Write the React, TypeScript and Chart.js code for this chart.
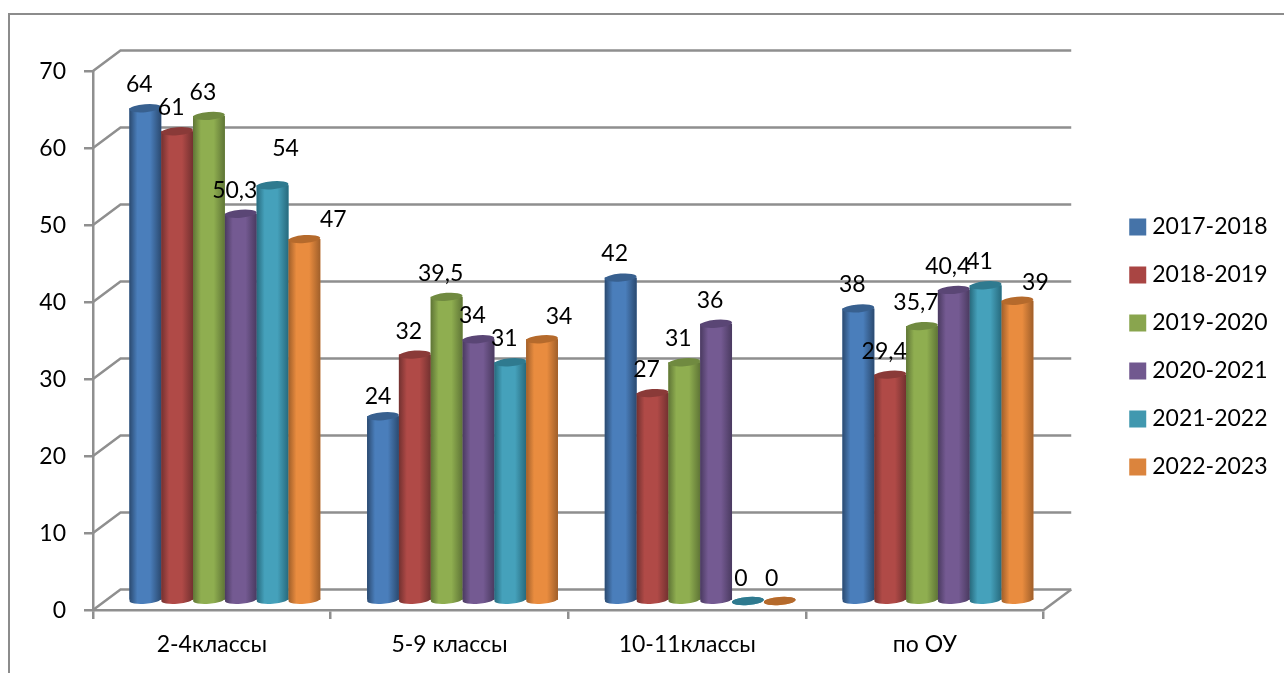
import React, { useEffect, useRef } from "react";
import { Chart, registerables } from "chart.js";

Chart.register(...registerables);

const categories = ["2-4классы", "5-9 классы", "10-11классы", "по ОУ"];
const seriesNames = ["2017-2018", "2018-2019", "2019-2020", "2020-2021", "2021-2022", "2022-2023"];
const y1718 = [64, 24, 42, 38];
const y1819 = [61, 32, 27, 29.4];
const y1920 = [63, 39.5, 31, 35.7];
const y2021 = [50.3, 34, 36, 40.4];
const y2122 = [54, 31, 0, 41];
const y2223 = [47, 34, 0, 39];
const seriesValues = [y1718, y1819, y1920, y2021, y2122, y2223];
const yTicks = [0, 10, 20, 30, 40, 50, 60, 70];

const baseColors = ["#4A7EBB", "#B04A47", "#8FAE50", "#745A92", "#45A1BB", "#E98C3F"];
const legendColors = ["#4573A8", "#A94543", "#89A54E", "#71588F", "#4198AF", "#DB843D"];
const edgeColors = ["#2B4A70", "#733130", "#5F7536", "#4A3A60", "#276A7D", "#A05F2A"];
const capColors = ["#38608F", "#8A3A38", "#708A40", "#5A4675", "#2F7A8F", "#B56A2C"];

const FONT = "Lato, Carlito, 'Open Sans', sans-serif";
const FONT_SIZE = 23;
const GRID = "#8F8F8F";
const DEPTH_X = 27.5;
const DEPTH_Y = -20.5;
const BAR_DX = 13;
const BAR_DY = -9;
const CAT_PCT = 0.803;
const CAP_RY = 4;
const TILT = -0.08;

// label nudges relative to the bar top, per series then per category
const d: [number, number] = [-6, -24];
const labelNudges: [number, number][][] = [
  [d, [-5, -20], [-6, -25], d],
  [d, d, d, d],
  [d, d, d, d],
  [d, d, d, d],
  [[13, -37], d, [-7, -23], d],
  [[29, -20], [17, -23], [-8, -23], [18, -19]],
];

const cylinders = {
  id: "cylinders",
  beforeDatasetsDraw(chart: any) {
    const { ctx, scales } = chart;
    const { x: xs, y: ys } = scales;
    ctx.save();
    // back wall
    ctx.strokeStyle = GRID;
    ctx.lineWidth = 2.5;
    yTicks.forEach((v) => {
      const y = ys.getPixelForValue(v);
      ctx.beginPath();
      ctx.moveTo(xs.left, y);
      ctx.lineTo(xs.left + DEPTH_X, y + DEPTH_Y);
      ctx.lineTo(xs.right + DEPTH_X, y + DEPTH_Y);
      ctx.stroke();
    });
    ctx.beginPath();
    const y0 = ys.getPixelForValue(0);
    ctx.moveTo(xs.right, y0);
    ctx.lineTo(xs.right + DEPTH_X, y0 + DEPTH_Y);
    ctx.stroke();
    ctx.translate(BAR_DX, BAR_DY);
  },
  afterDatasetsDraw(chart: any) {
    const { ctx } = chart;
    // cylinders, left to right within each category
    seriesValues.forEach((_, i) => {
      chart.getDatasetMeta(i).data.forEach((bar: any) => {
        const rx = bar.width / 2;
        const g = ctx.createLinearGradient(bar.x - rx, 0, bar.x + rx, 0);
        g.addColorStop(0, edgeColors[i]);
        g.addColorStop(0.25, baseColors[i]);
        g.addColorStop(0.65, baseColors[i]);
        g.addColorStop(1, edgeColors[i]);
        ctx.fillStyle = g;
        ctx.beginPath();
        ctx.ellipse(bar.x, bar.base, rx, CAP_RY, TILT, 0, Math.PI * 2);
        ctx.fill();
        if (bar.base - bar.y > 0) {
          ctx.fillRect(bar.x - rx, bar.y, bar.width, bar.base - bar.y);
        }
        ctx.fillStyle = capColors[i];
        ctx.beginPath();
        ctx.ellipse(bar.x, bar.y, rx, CAP_RY, TILT, 0, Math.PI * 2);
        ctx.fill();
      });
    });
    ctx.restore();
    ctx.save();
    ctx.fillStyle = "#000";
    ctx.font = `${FONT_SIZE}px ${FONT}`;
    ctx.textAlign = "center";
    ctx.textBaseline = "middle";
    seriesValues.forEach((vals, i) => {
      const meta = chart.getDatasetMeta(i);
      vals.forEach((v, j) => {
        const bar = meta.data[j];
        const [nx, ny] = labelNudges[i][j];
        ctx.fillText(String(v).replace(".", ","), bar.x + BAR_DX + nx, bar.y + BAR_DY + ny + 0.5);
      });
    });
    // outer frame
    ctx.strokeStyle = "#8C8C8C";
    ctx.lineWidth = 2;
    ctx.beginPath();
    ctx.moveTo(9, 673);
    ctx.lineTo(9, 14);
    ctx.lineTo(1284, 14);
    ctx.stroke();
    ctx.restore();
  },
};

export default function App() {
  const ref = useRef<HTMLCanvasElement>(null);
  useEffect(() => {
    const chart = new Chart(ref.current!, {
      type: "bar",
      data: {
        labels: categories,
        datasets: seriesNames.map((label, i) => ({
          label,
          data: seriesValues[i],
          backgroundColor: legendColors[i],
          borderWidth: 0,
        })),
      },
      plugins: [cylinders],
      options: {
        responsive: false,
        animation: false,
        devicePixelRatio: 1,
        layout: { padding: { top: 21, left: 0, right: 6.5, bottom: 0 } },
        datasets: { bar: { categoryPercentage: CAT_PCT, barPercentage: 1 } },
        scales: {
          x: {
            grid: { display: true, drawOnChartArea: false, color: GRID, lineWidth: 2.5, tickLength: 9 },
            border: { color: GRID, width: 2.5 },
            ticks: { color: "#000", font: { family: FONT, size: FONT_SIZE }, padding: 12, maxRotation: 0 },
            afterFit: (s: any) => { s.height = 63; },
          },
          y: {
            min: 0,
            max: 70,
            afterBuildTicks: (s: any) => { s.ticks = yTicks.map((value) => ({ value })); },
            grid: { display: true, drawOnChartArea: false, color: GRID, lineWidth: 2.5, tickLength: 9 },
            border: { color: GRID, width: 2.5 },
            ticks: { color: "#000", font: { family: FONT, size: FONT_SIZE }, padding: 18, labelOffset: 1 },
            afterFit: (s: any) => { s.width = 93; },
          },
          spacerRight: {
            type: "linear",
            position: "right",
            grid: { display: false },
            border: { display: false },
            ticks: { display: false },
            afterFit: (s: any) => { s.width = 66; },
          },
          spacerTop: {
            type: "linear",
            position: "top",
            grid: { display: false },
            border: { display: false },
            ticks: { display: false },
            afterFit: (s: any) => { s.height = 50; },
          },
        },
        plugins: {
          legend: {
            position: "right",
            labels: {
              color: "#000",
              font: { family: FONT, size: FONT_SIZE },
              usePointStyle: true,
              pointStyle: "rect",
              boxWidth: 6,
              boxHeight: 17,
              padding: 25,
            },
          },
          tooltip: { enabled: false },
        },
      } as any,
    });
    return () => chart.destroy();
  }, []);
  return (
    <div style={{ position: "absolute", left: 0, top: 0, width: 1284, height: 673, background: "#fff" }}>
      <canvas ref={ref} width={1284} height={673} style={{ display: "block" }} />
    </div>
  );
}
